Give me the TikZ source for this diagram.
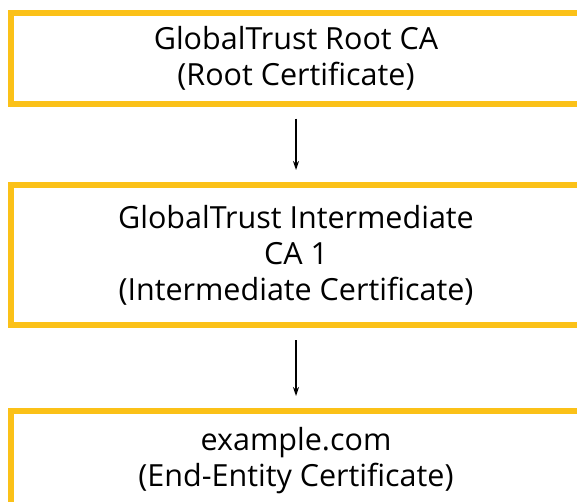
\documentclass[tikz,border=0pt]{standalone}
\usepackage{fontspec}
\setmainfont{Open Sans}
\usetikzlibrary{arrows.meta}
\definecolor{certgold}{RGB}{251,193,24}

\begin{document}
\begin{tikzpicture}[x=1pt, y=-1pt,
    cert/.style={draw=certgold, line width=6pt, rectangle, minimum width=570pt,
        align=center, font=\fontsize{30.5}{36}\selectfont, inner sep=0pt},
    link/.style={-{Stealth[length=9pt,width=6pt]}, line width=1.5pt,
        shorten <=12pt, shorten >=12pt}]

    \clip (0,0) rectangle (577,501);

    \node[cert, minimum height=91pt] (root) at (296, 58) {GlobalTrust Root CA\\(Root Certificate)};
    \node[cert, minimum height=140pt] (inter) at (296, 255) {GlobalTrust Intermediate\\CA 1\\(Intermediate Certificate)};
    \node[cert, minimum height=100pt] (leaf) at (296, 461) {example.com\\(End-Entity Certificate)};

    \draw [link] (root) to (inter);
    \draw [link] (inter) to (leaf);

\end{tikzpicture}
\end{document}
